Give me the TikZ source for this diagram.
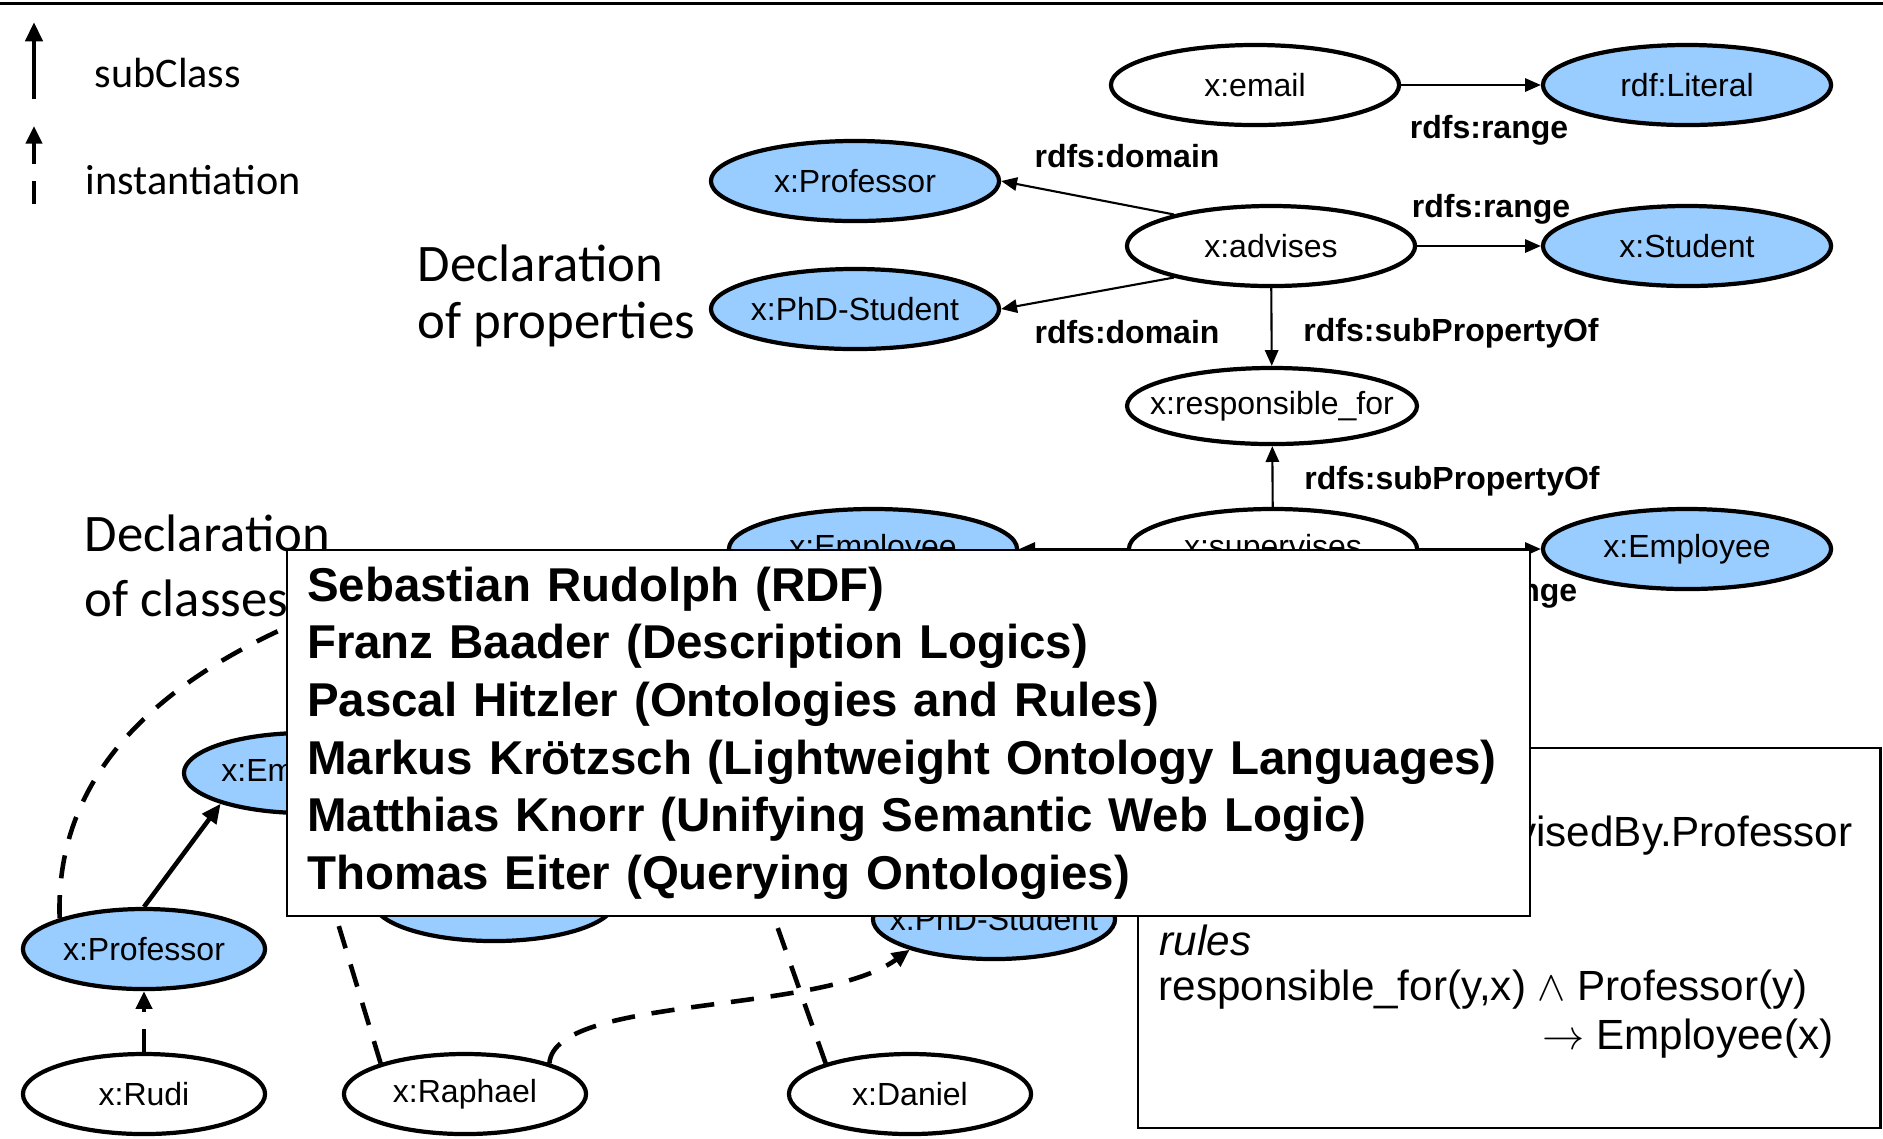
\documentclass[tikz,border=0pt]{standalone}
\usepackage{fontspec}
\setmainfont{Liberation Sans}
\newfontfamily\calibri{Carlito}
\usetikzlibrary{shapes.geometric, arrows.meta, positioning}
\definecolor{classblue}{RGB}{153,204,255}

\tikzset{
  prop/.style={ellipse, draw, line width=1.2pt, fill=white, inner xsep=-5.5pt, inner ysep=0pt,
    minimum width=2.88cm, minimum height=0.8cm, font=\fontsize{9.1}{11}\selectfont},
  cls/.style={prop, fill=classblue},
  indiv/.style={prop, minimum width=2.42cm},
  indcls/.style={indiv, fill=classblue},
  lbl/.style={font=\fontsize{9.1}{11}\selectfont\bfseries},
  rel/.style={line width=0.6pt, -{Triangle[length=4.5pt,width=3.8pt]}},
  subcls/.style={line width=1.3pt, -{Triangle[length=5.5pt,width=4.8pt]}},
  inst/.style={line width=1.3pt, dash pattern=on 6.6pt off 4.8pt, -{Triangle[length=5pt,width=4.5pt]}},
  legendtxt/.style={font=\calibri\fontsize{12}{14}\selectfont, anchor=west, inner sep=0pt},
  heading/.style={font=\calibri\fontsize{15}{18.2}\selectfont, anchor=west, inner sep=0pt},
  ruletxt/.style={font=\fontsize{12}{14}\selectfont, anchor=west, inner sep=0pt},
  panel/.style={draw, fill=white, line width=0.6pt, anchor=north west}
}

\begin{document}
\begin{tikzpicture}[x=0.01cm, y=-0.01cm]
  \useasboundingbox (0,0) rectangle (1883,1138);

  \coordinate (topL) at (0,3.5);
  \coordinate (topR) at (1883,3.5);
  \draw[line width=0.8pt] (topL) -- (topR);

  % legend
  \coordinate (subFrom) at (34,99);
  \coordinate (subTo) at (34,22);
  \draw[subcls] (subFrom) -- (subTo);
  \node[legendtxt] (subLbl) at (94,73) {subClass};
  \coordinate (instFrom) at (34,204);
  \coordinate (instTo) at (34,126);
  \draw[inst] (instFrom) -- (instTo);
  \node[legendtxt] (instLbl) at (85,180) {instantiation};

  \node[heading] (declPropsA) at (417,263) {Declaration};
  \node[heading] (declPropsB) at (417,324) {of properties};
  \node[heading] (declClassesA) at (84,533) {Declaration};
  \node[heading] (declClassesB) at (84,598) {of classes};

  % properties
  \node[prop] (email) at (1255,85) {x:email};
  \node[cls] (literal) at (1687,85) {rdf:Literal};
  \node[cls] (profTop) at (855,181) {x:Professor};
  \node[prop] (advises) at (1271,246) {x:advises};
  \node[cls] (student) at (1687,246) {x:Student};
  \node[cls] (phdTop) at (855,309) {x:PhD-Student};
  \node[prop, minimum height=0.76cm] (resp) at (1272,406) {x:responsible\_for};
  \node[cls] (empMid) at (873,549) {x:Employee};
  \node[prop] (supervises) at (1273,549) {x:supervises};
  \node[cls] (empRight) at (1687,549) {x:Employee};

  \draw[rel] (email) -- (literal);
  \draw[rel] (advises.162) -- (profTop.east);
  \draw[rel] (advises.198) -- (phdTop.east);
  \draw[rel] (advises) -- (student);
  \draw[rel] (advises) -- (resp);
  \draw[rel] (supervises) -- (resp);
  \draw[rel] (supervises) -- (empMid);
  \draw[rel] (supervises) -- (empRight);

  \node[lbl] (rangeEmail) at (1489,130) {rdfs:range};
  \node[lbl] (domainProf) at (1127,156) {rdfs:domain};
  \node[lbl] (rangeStudent) at (1491,209) {rdfs:range};
  \node[lbl] (domainPhd) at (1127,332) {rdfs:domain};
  \node[lbl] (subPropAdv) at (1451,333) {rdfs:subPropertyOf};
  \node[lbl] (subPropSup) at (1452,481) {rdfs:subPropertyOf};
  \node[lbl] (rangeEmp) at (1498,593) {rdfs:range};

  % classes and instances
  \node[indcls] (empCls) at (305,773) {x:Employee};
  \node[indcls] (hiddenCls) at (494,901) {};
  \node[indcls] (profBot) at (144,949) {x:Professor};
  \node[indcls] (phdBot) at (994,919) {x:PhD-Student};
  \node[indiv] (rudi) at (144,1094) {x:Rudi};
  \node[indiv] (raphael) at (465,1094) {x:Raphael};
  \node[indiv] (daniel) at (910,1094) {x:Daniel};
  \coordinate (clsHidden) at (340,605);
  \coordinate (danTarget) at (690,680);

  \draw[subcls] (profBot.north) -- (empCls.200);
  \draw[inst] (rudi) -- (profBot);
  \draw[inst] (profBot.160) .. controls (55,780) and (150,680) .. (clsHidden);
  \draw[inst] (raphael.160) -- (empCls.south);
  \draw[inst] (daniel.160) -- (danTarget);
  \draw[inst] (raphael.20) .. controls (555,995) and (820,1015) .. (phdBot.200);

  % rules panel
  \node[panel, minimum width=7.42cm, minimum height=3.8cm] (ruleBox) at (1137,747) {};
  \node[ruletxt, anchor=east] (axiomTail) at (1853,836) {visedBy.Professor};
  \node[ruletxt] (rulesHead) at (1159,940) {\textit{rules}};
  \node[ruletxt] (ruleBody) at (1158,990) {responsible\_for(y,x) $\wedge$ Professor(y)};
  \node[ruletxt] (ruleHead) at (1542,1039) {$\rightarrow$ Employee(x)};

  % speakers overlay
  \node[panel, minimum width=12.42cm, minimum height=3.66cm, text width=12.02cm,
    inner xsep=0.2cm, align=left, font=\fontsize{13.5}{16.4}\selectfont\bfseries] (speakers) at (286,549) {
    Sebastian Rudolph (RDF)\\
    Franz Baader (Description Logics)\\
    Pascal Hitzler (Ontologies and Rules)\\
    Markus Krötzsch (Lightweight Ontology Languages)\\
    Matthias Knorr (Unifying Semantic Web Logic)\\
    Thomas Eiter (Querying Ontologies)};
\end{tikzpicture}
\end{document}
